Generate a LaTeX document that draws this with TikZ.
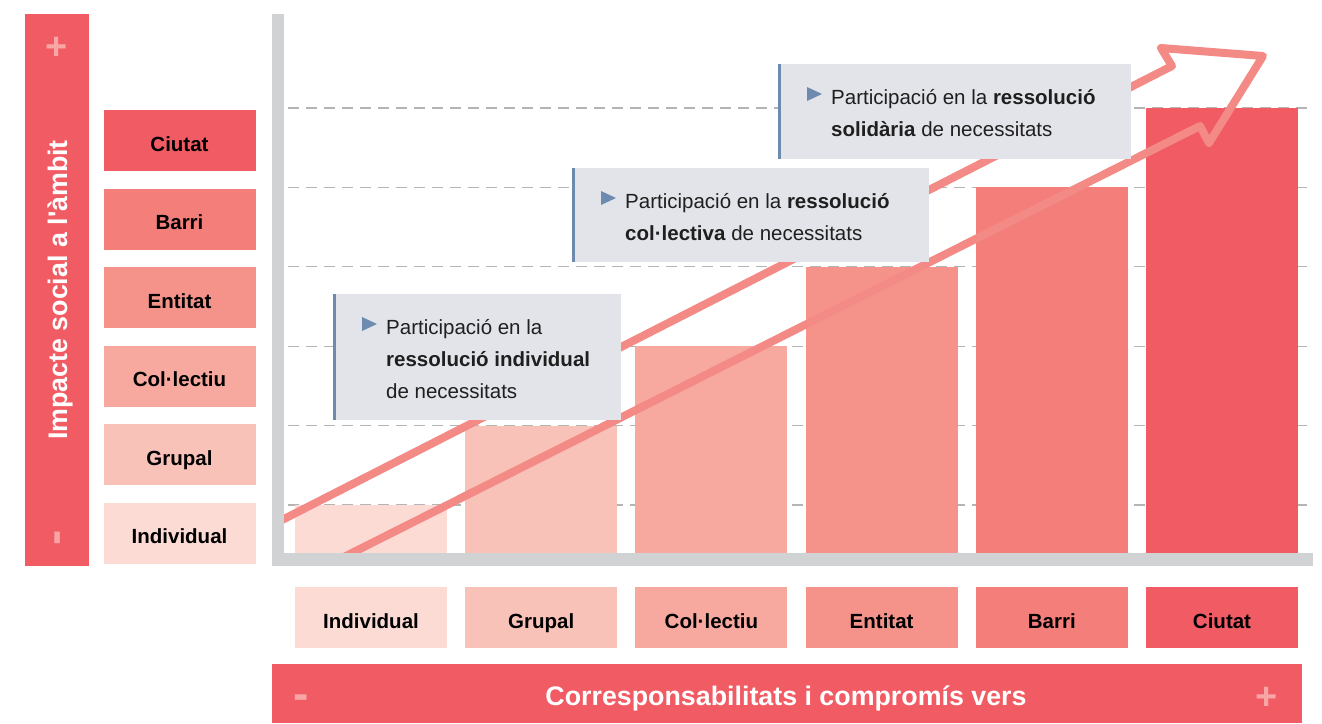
\documentclass[tikz,border=0pt]{standalone}
\usepackage{fontspec}
\setmainfont{Liberation Sans}
\usepackage{tikz}

\definecolor{redmain}{HTML}{F15B63}
\definecolor{lvA}{HTML}{FBDBD4}
\definecolor{lvB}{HTML}{F9C2B9}
\definecolor{lvC}{HTML}{F7A9A0}
\definecolor{lvD}{HTML}{F5938B}
\definecolor{lvE}{HTML}{F37E7A}
\definecolor{lvF}{HTML}{F15B63}
\definecolor{arrowcol}{HTML}{F48A85}
\definecolor{pmcol}{HTML}{F8A5A5}
\definecolor{axisgray}{HTML}{D1D2D4}
\definecolor{gridgray}{HTML}{B4B4B4}
\definecolor{notefill}{HTML}{E3E4E9}
\definecolor{noteedge}{HTML}{6D8BAF}

\begin{document}
\begin{tikzpicture}[x=1pt,y=-1pt,
  lvbox/.style={minimum width=152pt,minimum height=61pt,inner sep=0pt,
    text height=21pt,text depth=0pt,
    text=black,font=\fontsize{20.5}{24}\selectfont\bfseries},
  gridline/.style={gridgray,line width=1.2pt,dash pattern=on 11pt off 7pt},
  note/.style={fill=notefill,inner sep=0pt,anchor=north west},
  notetext/.style={anchor=base west,inner sep=0pt,align=left,text=black!88,
    font=\fontsize{20.5}{32}\selectfont},
  pm/.style={text=pmcol,inner sep=0pt,font=\fontsize{38}{38}\selectfont\bfseries},
  mn/.style={pm,anchor=base,font=\fontsize{46}{46}\selectfont\bfseries},
  axlabel/.style={text=white,inner sep=0pt,font=\fontsize{26.8}{30}\selectfont\bfseries}]
        \useasboundingbox (0,0) rectangle (1322,723);

        % grid and bars
        \foreach \k in {0,...,5}
          \draw[gridline] (288,{505-79.4*\k}) -- (1313,{505-79.4*\k});
        \foreach \col [count=\i from 0] in {lvA,lvB,lvC,lvD,lvE,lvF}
          \fill[\col] ({295+170.2*\i},553) rectangle ++(152,{-(48+79.4*\i)});

        % rising arrow
        \draw[arrowcol,line width=8pt,line join=round]
          (282,520) -- (1172,66) -- (1161,48) -- (1263,56) -- (1209,143)
          -- (1200,126) -- (340,559);

        % axes
        \fill[axisgray] (272,14) rectangle (284,566);
        \fill[axisgray] (272,553) rectangle (1313,566);

        % notes
        \node[note,minimum width=288pt,minimum height=126pt] (note1) at (333,294) {};
        \node[note,minimum width=357pt,minimum height=94pt] (note2) at (572,168) {};
        \node[note,minimum width=353pt,minimum height=95pt] (note3) at (778,64) {};
        \foreach \n in {note1,note2,note3}{
          \draw[noteedge,line width=3pt] ([xshift=1.5pt]\n.north west) -- ([xshift=1.5pt]\n.south west);
          \fill[noteedge] ([shift={(29,23)}]\n.north west) -- ++(0,14) -- ++(15,-7) -- cycle;
        }
        \node[notetext] (note1txt) at ([shift={(53,104)}]note1.north west)
          {Participació en la\\\textbf{ressolució individual}\\de necessitats};
        \node[notetext] (note2txt) at ([shift={(53,72)}]note2.north west)
          {Participació en la \textbf{ressolució}\\\textbf{col·lectiva} de necessitats};
        \node[notetext] (note3txt) at ([shift={(53,72)}]note3.north west)
          {Participació en la \textbf{ressolució}\\\textbf{solidària} de necessitats};

        % vertical scale
        \fill[redmain] (25,14) rectangle (89,566);
        \node[axlabel,rotate=90,anchor=base] (ylabel) at (67,290) {Impacte social a l\textquotesingle àmbit};
        \node[pm] (yplus) at (57,48) {+};
        \node[mn,rotate=90] (yminus) at (69,538) {-};
        \foreach \lbl/\col [count=\i from 0] in {Individual/lvA,Grupal/lvB,Col·lectiu/lvC,Entitat/lvD,Barri/lvE,Ciutat/lvF}{
          \node[lvbox,fill=\col] (lv\i) at (179.5,{533-78.5*\i}) {\lbl};
          \node[lvbox,fill=\col] (cat\i) at ({371+170.2*\i},617.5) {\lbl};
        }

        % horizontal scale
        \fill[redmain] (272,664) rectangle (1302,723);
        \node[axlabel,anchor=base] (xlabel) at (786,705) {Corresponsabilitats i compromís vers};
        \node[mn] (xminus) at (301,709) {-};
        \node[pm] (xplus) at (1267,698) {+};
      \end{tikzpicture}
\end{document}
